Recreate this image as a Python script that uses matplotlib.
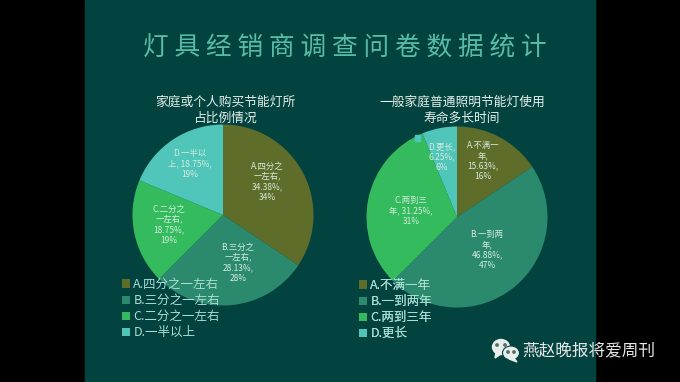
import matplotlib
matplotlib.use("Agg")
import matplotlib.pyplot as plt
from matplotlib.patches import Rectangle, Ellipse, Polygon

plt.rcParams['font.family'] = ['Noto Sans CJK SC', 'DejaVu Sans']

# data
main_title = "灯具经销商调查问卷数据统计"
title_left = "家庭或个人购买节能灯所\n占比例情况"
title_right = "一般家庭普通照明节能灯使用\n寿命多长时间"

cats_left = ["A.四分之一左右", "B.三分之一左右", "C.二分之一左右", "D.一半以上"]
vals_left = [34.38, 28.13, 18.75, 18.75]
labels_left = ["A.四分之\n一左右,\n34.38%,\n34%", "B.三分之\n一左右,\n28.13%,\n28%",
               "C.二分之\n一左右,\n18.75%,\n19%", "D.一半以\n上, 18.75%,\n19%"]

cats_right = ["A.不满一年", "B.一到两年", "C.两到三年", "D.更长"]
vals_right = [15.63, 46.88, 31.25, 6.25]
labels_right = ["A.不满一\n年,\n15.63%,\n16%", "B.一到两\n年,\n46.88%,\n47%",
                "C.两到三\n年, 31.25%,\n31%", "D.更长,\n6.25%,\n6%"]

colors = ["#5f6d2b", "#2b8a6d", "#34bb5d", "#50c5ba"]
footer = "燕赵晚报将爱周刊"

H = 382
fig = plt.figure(figsize=(6.8, 3.82), dpi=100, facecolor="black")
ax = fig.add_axes([0, 0, 1, 1])
ax.axis("off")


def draw_pie(vals, cx, cy, title, title_x, labels, label_pos, cats, leg_x, leg_y):
    wedges, _ = ax.pie(vals, colors=colors, startangle=90, counterclock=False,
                       center=(cx, H - cy), radius=90.5, frame=True)
    for w in wedges:
        w.set_zorder(2)
    ax.text(title_x, H - 110, title, color="#e4efe9", fontsize=9.2, ha="center", va="center",
            linespacing=1.3, fontweight="medium", zorder=4)
    for lab, (x, y) in zip(labels, label_pos):
        ax.text(x, H - y, lab, color="#d5ecdf", fontsize=6, ha="center", va="center",
                linespacing=1.22, zorder=4)
    leg = ax.legend(wedges, cats, loc="upper left", bbox_to_anchor=(leg_x, H - leg_y),
                    bbox_transform=ax.transData, frameon=False, fontsize=9,
                    labelcolor="#a9dcd3", handlelength=0.65, handleheight=0.65,
                    handletextpad=0.3, labelspacing=0.25, borderpad=0, borderaxespad=0)
    ax.add_artist(leg)
    leg.set_zorder(5)


ax.add_patch(Rectangle((85, 0), 510, H, color="#03433f", zorder=0))

ax.text(345, H - 49, " ".join(main_title), color="#58bba6", fontsize=18.5, ha="center", va="center", zorder=4)

draw_pie(vals_left, 223, 215, title_left, 225, labels_left,
         [(267, 182), (238, 263), (169, 225), (190, 164)], cats_left, 121.5, 278)
draw_pie(vals_right, 457, 217, title_right, 462, labels_right,
         [(483, 161), (487, 250), (411, 211), (442, 157)], cats_right, 358.5, 279)

# small stray patch at the edge of the right pie
ax.add_patch(Rectangle((415, H - 141), 5, 6, color=colors[3], zorder=3))

# watermark
ax.add_patch(Ellipse((501, H - 347), 17, 15, color="#e8eeea", zorder=6))
ax.add_patch(Polygon([(496, H - 352), (495, H - 358), (501, H - 354)], color="#e8eeea", zorder=6))
ax.add_patch(Ellipse((511, H - 353), 17, 14, color="#e8eeea", ec="#03433f", lw=0.8, zorder=7))
ax.add_patch(Polygon([(514, H - 358), (517, H - 362), (509, H - 359)], color="#e8eeea", zorder=7))
for ex, ey, z in [(497, 345, 8), (505, 345, 8), (508, 352, 8), (514, 352, 8)]:
    ax.add_patch(Ellipse((ex, H - ey), 2.4, 2.4, color="#55706a", zorder=z))
ax.text(522, H - 352, footer, color="#e6e6e6", fontsize=12, ha="left", va="center", zorder=8)

ax.set_xlim(0, 680)
ax.set_ylim(0, H)

fig.savefig("out.png", dpi=100, facecolor="black")
